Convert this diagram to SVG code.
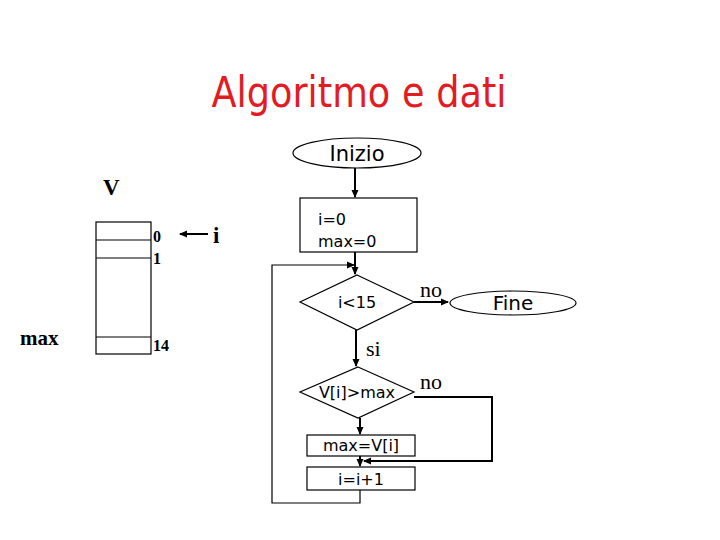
<svg xmlns="http://www.w3.org/2000/svg" width="720" height="540" viewBox="0 0 720 540">
<style>
.ln{fill:none;stroke:#000;stroke-width:1.2}
.cn{fill:none;stroke:#000;stroke-width:2}
.sh{fill:#fff;stroke:#000;stroke-width:1.2}
.ss{font-family:"DejaVu Sans",sans-serif;fill:#000}
.sf{font-family:"Liberation Serif",serif;fill:#000;font-weight:bold}
.sn{font-family:"Liberation Serif",serif;fill:#000}
</style>
<defs>
<marker id="ah" markerWidth="8" markerHeight="8" refX="7" refY="4" orient="auto" markerUnits="userSpaceOnUse">
<path d="M0,0.5 L8,4 L0,7.5 Z" fill="#000"/>
</marker>
</defs>
<rect width="720" height="540" fill="#fff"/>
<text x="359" y="107" text-anchor="middle" font-family="DejaVu Sans,sans-serif" font-size="42" fill="#e31b23" textLength="295" lengthAdjust="spacingAndGlyphs">Algoritmo e dati</text>

<g id="array">
<rect x="96" y="222" width="55" height="132" class="ln"/>
<line x1="96" y1="240" x2="151" y2="240" class="ln"/>
<line x1="96" y1="258" x2="151" y2="258" class="ln"/>
<line x1="96" y1="337" x2="151" y2="337" class="ln"/>
<text x="103" y="195" class="sf" font-size="23">V</text>
<text x="153" y="242" class="sf" font-size="16">0</text>
<text x="153" y="264" class="sf" font-size="16">1</text>
<text x="153" y="351" class="sf" font-size="16">14</text>
<text x="213" y="243" class="sf" font-size="23">i</text>
<text x="20" y="345" class="sf" font-size="21">max</text>
</g>

<g id="inizio">
<ellipse cx="357" cy="153" rx="64" ry="15" class="sh"/>
<text x="357" y="161" text-anchor="middle" class="ss" font-size="21">Inizio</text>
</g>
<g id="init">
<rect x="300" y="198" width="117" height="54" class="sh"/>
<text x="318" y="225" class="ss" font-size="16">i=0</text>
<text x="318" y="247" class="ss" font-size="16">max=0</text>
</g>
<g id="cond1">
<polygon points="357,275 414,302 357,330 300,302" class="sh"/>
<text x="357" y="308" text-anchor="middle" class="ss" font-size="16">i&lt;15</text>
</g>
<g id="fine">
<ellipse cx="513" cy="303" rx="63" ry="12" class="sh"/>
<text x="513" y="310" text-anchor="middle" class="ss" font-size="20">Fine</text>
</g>
<g id="cond2">
<polygon points="358,367 414,392 358,418 300,392" class="sh"/>
<text x="357" y="398" text-anchor="middle" class="ss" font-size="16">V[i]&gt;max</text>
</g>
<g id="assign">
<rect x="307" y="435" width="108" height="21" class="sh"/>
<text x="361" y="451" text-anchor="middle" class="ss" font-size="16">max=V[i]</text>
</g>
<g id="incr">
<rect x="307" y="467" width="108" height="23" class="sh"/>
<text x="361" y="485" text-anchor="middle" class="ss" font-size="16">i=i+1</text>
</g>

<g id="connectors">
<line x1="208" y1="234" x2="180" y2="234" class="cn" marker-end="url(#ah)"/>
<line x1="355" y1="168" x2="355" y2="197" class="cn" marker-end="url(#ah)"/>
<line x1="355" y1="252" x2="355" y2="274" class="cn" marker-end="url(#ah)"/>
<polyline points="360,490 360,503 272,503 272,265 354,265" class="ln" marker-end="url(#ah)"/>
<line x1="414" y1="302" x2="448" y2="302" class="cn" marker-end="url(#ah)"/>
<line x1="356" y1="330" x2="356" y2="366" class="cn" marker-end="url(#ah)"/>
<line x1="360" y1="418" x2="360" y2="434" class="cn" marker-end="url(#ah)"/>
<line x1="360" y1="456" x2="360" y2="466" class="cn" marker-end="url(#ah)"/>
<polyline points="414,397 492,397 492,461 364,461" class="cn" marker-end="url(#ah)"/>
<text x="420" y="297" class="sn" font-size="22">no</text>
<text x="366" y="356" class="sn" font-size="22">si</text>
<text x="420" y="389" class="sn" font-size="22">no</text>
</g>
</svg>
